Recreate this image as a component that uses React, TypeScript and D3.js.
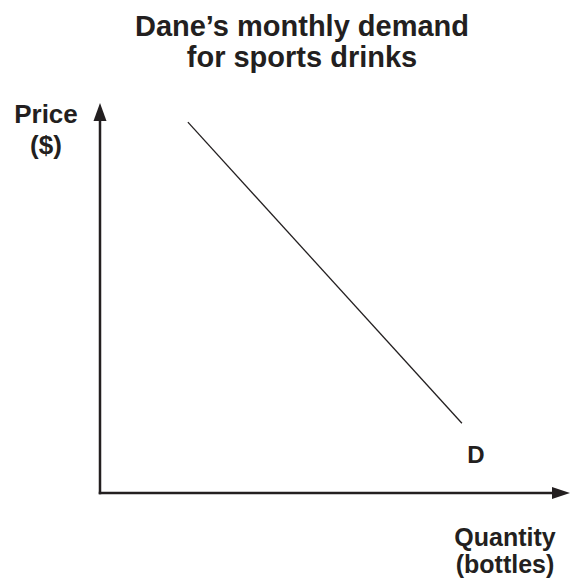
import { useEffect, useRef } from "react";
import * as d3 from "d3";

const width = 571;
const height = 583;

const margin = { top: 103, right: 1, bottom: 90, left: 100 };

// demand curve endpoints (quantity, price) in chart units
const demandQty = [1.87, 7.7];
const demandPrice = [9.51, 1.79];
const demandLabel = "D";
const labelPos = [8.0, 0.77];

const titleLines = ["Dane\u2019s monthly demand", "for sports drinks"];
const yLabelLines = ["Price", "($)"];
const xLabelLines = ["Quantity", "(bottles)"];

const ink = "#231f20";
const font = "'Liberation Sans', Arial, Helvetica, sans-serif";

const App = () => {
  const ref = useRef<SVGSVGElement | null>(null);

  useEffect(() => {
    const svg = d3.select(ref.current);
    svg.selectAll("*").remove();

    const x = d3.scaleLinear().domain([0, 10]).range([margin.left, width - margin.right]);
    const y = d3.scaleLinear().domain([0, 10]).range([height - margin.bottom, margin.top]);

    const x0 = x(0);
    const y0 = y(0);
    const xEnd = x(10);
    const yEnd = y(10);
    const head = 18;

    // axes
    svg.append("line")
      .attr("x1", x0).attr("y1", y0 + 1.25)
      .attr("x2", x0).attr("y2", yEnd + head - 2)
      .attr("stroke", ink).attr("stroke-width", 2.5);
    svg.append("path")
      .attr("d", `M${x0},${yEnd} L${x0 - 6.5},${yEnd + head} L${x0 + 6.5},${yEnd + head} Z`)
      .attr("fill", ink);

    svg.append("line")
      .attr("x1", x0 - 1.25).attr("y1", y0)
      .attr("x2", xEnd - head + 2).attr("y2", y0)
      .attr("stroke", ink).attr("stroke-width", 2.5);
    svg.append("path")
      .attr("d", `M${xEnd},${y0} L${xEnd - head},${y0 - 6} L${xEnd - head},${y0 + 6} Z`)
      .attr("fill", ink);

    // demand line
    const pts: [number, number][] = demandQty.map((q, i) => [q, demandPrice[i]]);
    svg.append("path")
      .attr("d", d3.line<[number, number]>().x(d => x(d[0])).y(d => y(d[1]))(pts))
      .attr("fill", "none")
      .attr("stroke", ink)
      .attr("stroke-width", 1.3);

    svg.append("text")
      .attr("x", x(labelPos[0])).attr("y", y(labelPos[1]))
      .attr("text-anchor", "middle")
      .attr("font-family", font).attr("font-weight", "bold").attr("font-size", 24)
      .attr("fill", ink)
      .text(demandLabel);

    // title
    svg.append("g").selectAll("text")
      .data(titleLines).join("text")
      .attr("x", 302).attr("y", (_, i) => 36 + i * 31)
      .attr("text-anchor", "middle")
      .attr("font-family", font).attr("font-weight", "bold").attr("font-size", 29)
      .attr("fill", ink)
      .text(d => d);

    // axis labels
    svg.append("g").selectAll("text")
      .data(yLabelLines).join("text")
      .attr("x", 46).attr("y", (_, i) => 123 + i * 31)
      .attr("text-anchor", "middle")
      .attr("font-family", font).attr("font-weight", "bold").attr("font-size", 26)
      .attr("fill", ink)
      .text(d => d);

    svg.append("g").selectAll("text")
      .data(xLabelLines).join("text")
      .attr("x", 505).attr("y", (_, i) => 546 + i * 27)
      .attr("text-anchor", "middle")
      .attr("font-family", font).attr("font-weight", "bold").attr("font-size", 25)
      .attr("fill", ink)
      .text(d => d);
  }, []);

  return (
    <svg
      ref={ref}
      width={width}
      height={height}
      viewBox={`0 0 ${width} ${height}`}
      style={{ position: "absolute", left: 0, top: 0, background: "#fff" }}
    />
  );
};

export default App;
